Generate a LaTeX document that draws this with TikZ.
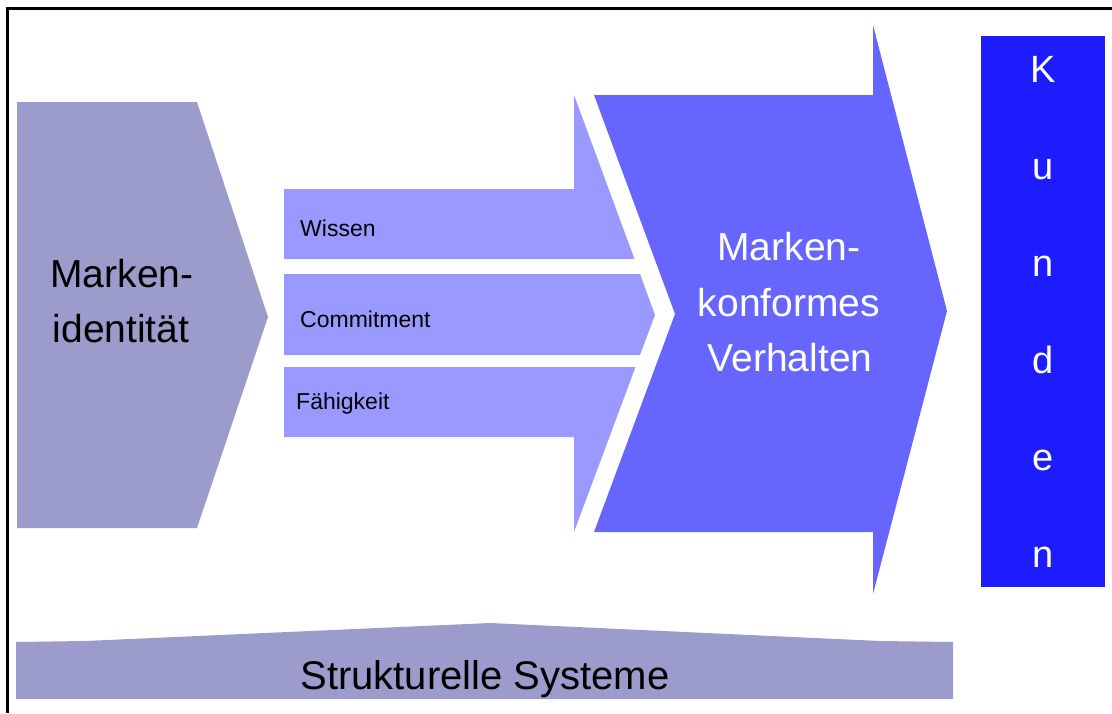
\documentclass[tikz,border=0pt]{standalone}
\usepackage{fontspec}
\setmainfont{Liberation Sans}
\definecolor{grayblue}{RGB}{155,155,204}
\definecolor{barblue}{RGB}{153,153,255}
\definecolor{midblue}{RGB}{102,102,255}
\definecolor{deepblue}{RGB}{28,28,255}
\tikzset{
  bigtext/.style={font=\fontsize{39}{46}\selectfont, inner sep=0pt, anchor=base},
  smalltext/.style={font=\fontsize{23}{27}\selectfont, inner sep=0pt, anchor=base west},
  letter/.style={font=\fontsize{38}{46}\selectfont, inner sep=0pt, anchor=base, text=white},
}
\begin{document}
\begin{tikzpicture}[x=1pt,y=-1pt]
\useasboundingbox (0,0) rectangle (1112,713);
% frame
\draw[line width=3pt] (7,713) -- (7,8) -- (1112,8);
% left pentagon
\fill[grayblue] (17,102) -- (197,102) -- (268,317) -- (197,528) -- (17,528) -- cycle;
\node[bigtext] (mi1) at (122,287) {Marken-};
\node[bigtext] (mi2) at (121,342) {identität};
% three bars forming an arrow
\fill[barblue] (284,189) -- (574,189) -- (574,95) -- (634.5,259) -- (284,259) -- cycle;
\fill[barblue] (284,274) -- (640,274) -- (655,315) -- (640,355) -- (284,355) -- cycle;
\fill[barblue] (284,367) -- (635.5,367) -- (574,532) -- (574,437) -- (284,437) -- cycle;
\node[smalltext] (w) at (300,236) {Wissen};
\node[smalltext] (c) at (300,327) {Commitment};
\node[smalltext] (f) at (296,409) {Fähigkeit};
% big arrow
\fill[midblue] (594,95) -- (873,95) -- (873,25) -- (947,311) -- (873,594) -- (873,532) -- (594,532) -- (675,314) -- cycle;
\node[bigtext, text=white] (v1) at (789,260) {Marken-};
\node[bigtext, text=white] (v2) at (789,316) {konformes};
\node[bigtext, text=white] (v3) at (790,371) {Verhalten};
% Kunden
\fill[deepblue] (981,36) rectangle (1105,587);
\node[letter] (k1) at (1043,82) {K};
\node[letter] (k2) at (1043,179) {u};
\node[letter] (k3) at (1043,276) {n};
\node[letter] (k4) at (1043,373) {d};
\node[letter] (k5) at (1043,470) {e};
\node[letter] (k6) at (1043,567) {n};
% bottom
\fill[grayblue] (16,642) -- (85,641) -- (490,623) -- (880,641) -- (953,642) -- (953,699) -- (16,699) -- cycle;
\node[font=\fontsize{40}{46}\selectfont, inner sep=0pt, anchor=base] (ss) at (485,689) {Strukturelle Systeme};
\end{tikzpicture}
\end{document}
